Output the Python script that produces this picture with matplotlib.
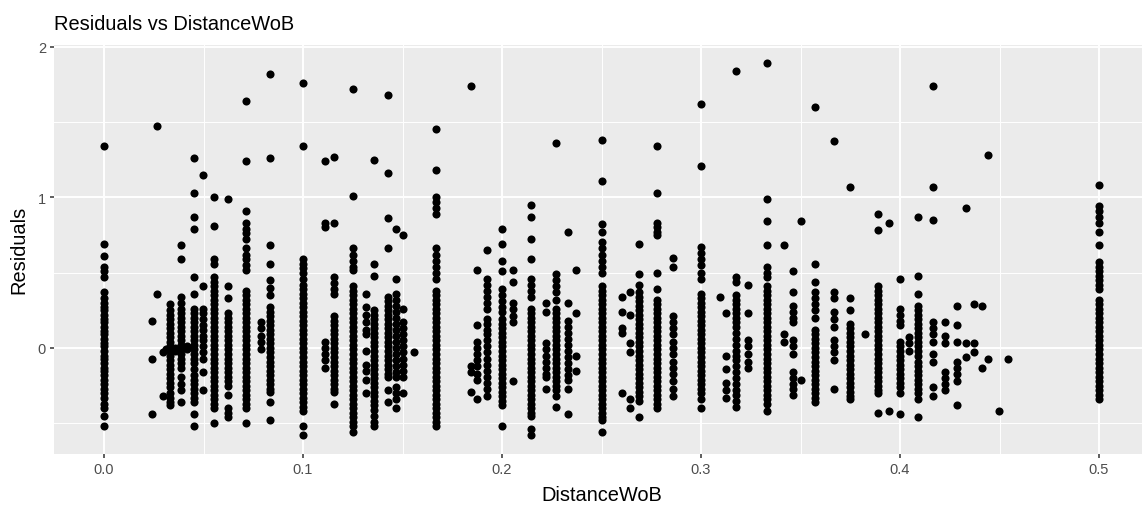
import matplotlib
matplotlib.use("Agg")
import matplotlib.pyplot as plt
from matplotlib.ticker import MultipleLocator, FixedLocator

plt.rcParams["font.family"] = ["Liberation Sans", "DejaVu Sans"]

# Distinct DistanceWoB values and the residuals observed at each of them
distance_levels = [
    0.0, 0.024, 0.0266, 0.0294, 0.0312, 0.0332, 0.0357, 0.0387, 0.0417,
    0.0453, 0.0497, 0.0553, 0.0623, 0.0714, 0.0789, 0.0833, 0.1, 0.1111,
    0.1156, 0.125, 0.1317, 0.1357, 0.1427, 0.1467, 0.150, 0.156, 0.1667,
    0.1844, 0.1873, 0.1925, 0.2, 0.2055, 0.2143, 0.2222, 0.2273, 0.2333,
    0.237, 0.25, 0.2603, 0.2643, 0.269, 0.2778, 0.2857, 0.3, 0.3095,
    0.3126, 0.3175, 0.3236, 0.3333, 0.3417, 0.346, 0.35, 0.3571, 0.3667,
    0.375, 0.3824, 0.3889, 0.3945, 0.4, 0.4045, 0.4091, 0.4167, 0.4226,
    0.4286, 0.433, 0.437, 0.441, 0.4444, 0.4497, 0.4543, 0.5,
]

residuals_by_level = [
    [1.34, 0.69, 0.61, 0.54, 0.51, 0.47, 0.37, 0.33, 0.30, 0.27, 0.25, 0.22, 0.19, 0.17,
     0.14, 0.11, 0.09, 0.06, 0.03, 0.01, -0.02, -0.05, -0.07, -0.10, -0.13, -0.15, -0.18,
     -0.21, -0.24, -0.27, -0.30, -0.33, -0.37, -0.40, -0.45, -0.52],
    [0.18, -0.07, -0.44],
    [1.47, 0.36],
    [-0.03, -0.32],
    [-0.01],
    [0.29, 0.25, 0.22, 0.19, 0.16, 0.13, 0.10, 0.07, 0.04, 0.01, -0.02, -0.05, -0.08,
     -0.11, -0.14, -0.17, -0.20, -0.23, -0.26, -0.30, -0.33, -0.36, -0.38],
    [0.0, -0.02],
    [0.68, 0.59, 0.34, 0.30, 0.26, 0.23, 0.20, 0.17, 0.14, 0.11, 0.08, 0.05, 0.02, -0.01,
     -0.04, -0.07, -0.10, -0.13, -0.19, -0.24, -0.28, -0.36],
    [0.01, -0.01],
    [1.26, 1.03, 0.87, 0.79, 0.47, 0.36, 0.26, 0.23, 0.20, 0.17, 0.14, 0.11, 0.08, 0.05,
     0.02, -0.01, -0.04, -0.07, -0.10, -0.14, -0.18, -0.21, -0.24, -0.27, -0.30, -0.33,
     -0.36, -0.44, -0.52],
    [1.15, 0.41, 0.26, 0.23, 0.19, 0.15, 0.12, 0.08, 0.05, 0.01, -0.03, -0.07, -0.16, -0.28],
    [1.00, 0.81, 0.59, 0.56, 0.47, 0.44, 0.41, 0.38, 0.35, 0.32, 0.29, 0.26, 0.23, 0.20,
     0.17, 0.14, 0.11, 0.08, 0.05, 0.02, -0.01, -0.04, -0.07, -0.10, -0.13, -0.16, -0.19,
     -0.22, -0.25, -0.28, -0.31, -0.34, -0.37, -0.40, -0.50],
    [0.99, 0.41, 0.33, 0.23, 0.20, 0.17, 0.14, 0.11, 0.08, 0.05, 0.02, -0.01, -0.04, -0.07,
     -0.10, -0.13, -0.16, -0.19, -0.22, -0.25, -0.31, -0.40, -0.43, -0.46],
    [1.64, 1.24, 0.91, 0.83, 0.79, 0.76, 0.72, 0.66, 0.62, 0.59, 0.55, 0.52, 0.38, 0.35,
     0.32, 0.29, 0.26, 0.23, 0.20, 0.17, 0.14, 0.11, 0.08, 0.05, 0.02, -0.01, -0.04, -0.07,
     -0.10, -0.13, -0.16, -0.19, -0.22, -0.25, -0.28, -0.31, -0.34, -0.37, -0.40, -0.50],
    [0.17, 0.13, 0.08, 0.04, -0.01],
    [1.82, 1.26, 0.68, 0.56, 0.45, 0.40, 0.35, 0.27, 0.24, 0.21, 0.18, 0.15, 0.12, 0.09,
     0.06, 0.03, 0.00, -0.03, -0.06, -0.09, -0.12, -0.15, -0.18, -0.21, -0.24, -0.27,
     -0.29, -0.36, -0.48],
    [1.76, 1.34, 0.59, 0.56, 0.53, 0.50, 0.46, 0.42, 0.39, 0.36, 0.33, 0.30, 0.27, 0.24,
     0.21, 0.18, 0.15, 0.12, 0.09, 0.06, 0.03, 0.00, -0.03, -0.06, -0.09, -0.12, -0.15,
     -0.18, -0.21, -0.24, -0.27, -0.30, -0.33, -0.36, -0.39, -0.42, -0.52, -0.58],
    [1.24, 0.83, 0.80, 0.04, 0.00, -0.04, -0.08, -0.13],
    [1.27, 0.83, 0.47, 0.43, 0.39, 0.36, 0.21, 0.18, 0.15, 0.12, 0.09, 0.06, 0.03, 0.00,
     -0.03, -0.06, -0.09, -0.12, -0.15, -0.18, -0.21, -0.24, -0.27, -0.29, -0.37],
    [1.72, 1.01, 0.66, 0.62, 0.58, 0.54, 0.52, 0.41, 0.38, 0.35, 0.32, 0.29, 0.26, 0.23,
     0.20, 0.17, 0.14, 0.11, 0.08, 0.05, 0.02, -0.01, -0.04, -0.07, -0.10, -0.13, -0.16,
     -0.19, -0.22, -0.25, -0.28, -0.31, -0.34, -0.37, -0.40, -0.43, -0.46, -0.49, -0.52,
     -0.56],
    [0.36, 0.27, 0.22, 0.17, 0.12, 0.09, -0.02, -0.11, -0.15, -0.21, -0.30],
    [1.25, 0.56, 0.48, 0.25, 0.22, 0.19, 0.16, 0.13, 0.10, 0.07, 0.04, 0.01, -0.02, -0.05,
     -0.08, -0.11, -0.14, -0.17, -0.20, -0.23, -0.26, -0.29, -0.32, -0.35, -0.38, -0.41,
     -0.45, -0.49, -0.52],
    [1.68, 1.16, 0.86, 0.66, 0.34, 0.31, 0.28, 0.25, 0.22, 0.19, 0.16, 0.13, 0.10, 0.07,
     0.04, 0.01, -0.02, -0.05, -0.08, -0.11, -0.14, -0.17, -0.19, -0.28, -0.36],
    [0.79, 0.46, 0.36, 0.32, 0.28, 0.24, 0.20, 0.16, 0.12, 0.08, 0.04, 0.00, -0.04, -0.08,
     -0.12, -0.16, -0.19, -0.26, -0.30, -0.34, -0.40],
    [0.75, 0.26, 0.17, 0.13, 0.09, 0.05, 0.01, -0.03, -0.07, -0.11, -0.15, -0.19, -0.30],
    [-0.03],
    [1.45, 1.18, 1.00, 0.97, 0.93, 0.89, 0.66, 0.62, 0.58, 0.54, 0.50, 0.46, 0.38, 0.35,
     0.32, 0.29, 0.26, 0.23, 0.20, 0.17, 0.14, 0.11, 0.08, 0.05, 0.02, -0.01, -0.04, -0.07,
     -0.10, -0.13, -0.16, -0.19, -0.22, -0.25, -0.28, -0.31, -0.34, -0.37, -0.40, -0.43,
     -0.46, -0.49, -0.52],
    [1.74, -0.12, -0.16, -0.29],
    [0.52, 0.15, 0.04, 0.00, -0.04, -0.08, -0.12, -0.17, -0.21, -0.34],
    [0.65, 0.46, 0.42, 0.38, 0.34, 0.30, 0.26, 0.19, 0.16, 0.12, 0.09, 0.05, 0.01, -0.03,
     -0.07, -0.11, -0.15, -0.19, -0.23, -0.27, -0.32],
    [0.79, 0.69, 0.58, 0.51, 0.39, 0.35, 0.31, 0.27, 0.24, 0.19, 0.16, 0.13, 0.10, 0.07,
     0.04, 0.01, -0.02, -0.05, -0.08, -0.11, -0.14, -0.17, -0.20, -0.23, -0.26, -0.29,
     -0.32, -0.35, -0.38, -0.52],
    [0.52, 0.44, 0.30, 0.26, 0.21, 0.17, -0.22],
    [0.95, 0.87, 0.72, 0.59, 0.46, 0.42, 0.38, 0.34, 0.26, 0.23, 0.20, 0.17, 0.14, 0.11,
     0.08, 0.05, 0.02, -0.01, -0.04, -0.07, -0.10, -0.13, -0.16, -0.19, -0.22, -0.25,
     -0.28, -0.31, -0.34, -0.37, -0.40, -0.43, -0.45, -0.54, -0.58],
    [0.30, 0.24, 0.03, -0.01, -0.05, -0.09, -0.13, -0.17, -0.19, -0.27],
    [1.36, 0.49, 0.45, 0.41, 0.37, 0.32, 0.26, 0.23, 0.20, 0.17, 0.14, 0.11, 0.08, 0.05,
     0.02, -0.01, -0.04, -0.07, -0.10, -0.13, -0.16, -0.19, -0.22, -0.25, -0.28, -0.32,
     -0.39],
    [0.77, 0.30, 0.18, 0.14, 0.10, 0.06, 0.02, -0.02, -0.06, -0.10, -0.14, -0.18, -0.21,
     -0.27, -0.44],
    [0.52, 0.23, -0.05, -0.15],
    [1.38, 1.11, 0.82, 0.77, 0.70, 0.66, 0.62, 0.58, 0.54, 0.50, 0.41, 0.38, 0.35, 0.32,
     0.29, 0.26, 0.23, 0.20, 0.17, 0.14, 0.11, 0.08, 0.05, 0.02, -0.01, -0.04, -0.07,
     -0.10, -0.13, -0.16, -0.19, -0.22, -0.25, -0.28, -0.31, -0.34, -0.37, -0.40, -0.43,
     -0.46, -0.48, -0.56],
    [0.34, 0.24, 0.13, 0.10, -0.30],
    [0.37, 0.22, 0.03, -0.03, -0.34, -0.40],
    [0.69, 0.49, 0.42, 0.37, 0.34, 0.31, 0.28, 0.25, 0.22, 0.19, 0.16, 0.13, 0.10, 0.07,
     0.04, 0.01, -0.02, -0.05, -0.08, -0.11, -0.14, -0.17, -0.20, -0.23, -0.26, -0.29,
     -0.32, -0.35, -0.46],
    [1.34, 1.03, 0.83, 0.80, 0.77, 0.75, 0.50, 0.39, 0.32, 0.29, 0.26, 0.23, 0.20, 0.17,
     0.14, 0.11, 0.08, 0.05, 0.02, -0.01, -0.04, -0.07, -0.10, -0.13, -0.16, -0.19, -0.22,
     -0.25, -0.28, -0.31, -0.34, -0.37, -0.40],
    [0.60, 0.54, 0.21, 0.17, 0.13, 0.09, 0.04, 0.00, -0.04, -0.09, -0.13, -0.17, -0.22,
     -0.27, -0.32],
    [1.62, 1.21, 0.67, 0.63, 0.59, 0.55, 0.50, 0.46, 0.36, 0.33, 0.30, 0.27, 0.24, 0.21,
     0.18, 0.15, 0.12, 0.09, 0.06, 0.03, 0.00, -0.03, -0.06, -0.09, -0.12, -0.15, -0.18,
     -0.21, -0.24, -0.27, -0.30, -0.34, -0.40],
    [0.34],
    [0.23, -0.05, -0.14, -0.23, -0.28, -0.33],
    [1.84, 0.47, 0.44, 0.35, 0.32, 0.29, 0.26, 0.23, 0.20, 0.17, 0.14, 0.10, 0.06, 0.02,
     -0.02, -0.05, -0.08, -0.12, -0.16, -0.20, -0.24, -0.28, -0.31, -0.35, -0.39],
    [0.42, 0.23, 0.05, 0.01, -0.04, -0.09, -0.13],
    [1.89, 0.99, 0.84, 0.68, 0.54, 0.50, 0.47, 0.41, 0.38, 0.35, 0.32, 0.29, 0.26, 0.23,
     0.20, 0.17, 0.14, 0.11, 0.08, 0.05, 0.02, -0.01, -0.04, -0.07, -0.10, -0.13, -0.16,
     -0.19, -0.22, -0.25, -0.28, -0.31, -0.34, -0.37, -0.42],
    [0.68, 0.09, 0.04],
    [0.51, 0.37, 0.28, 0.24, 0.20, 0.17, 0.05, 0.01, -0.04, -0.16, -0.20, -0.24, -0.27, -0.31],
    [0.84, -0.21],
    [1.60, 0.56, 0.44, 0.37, 0.33, 0.29, 0.25, 0.20, 0.12, 0.09, 0.06, 0.03, 0.00, -0.03,
     -0.06, -0.09, -0.12, -0.15, -0.18, -0.21, -0.24, -0.27, -0.30, -0.33, -0.36],
    [1.37, 0.37, 0.33, 0.24, 0.19, 0.14, 0.05, 0.01, -0.03, -0.08, -0.27],
    [1.07, 0.33, 0.25, 0.16, 0.13, 0.10, 0.07, 0.04, 0.01, -0.02, -0.05, -0.08, -0.11,
     -0.14, -0.17, -0.20, -0.23, -0.26, -0.29, -0.32, -0.34],
    [0.09],
    [0.89, 0.78, 0.41, 0.38, 0.35, 0.32, 0.29, 0.26, 0.23, 0.20, 0.17, 0.14, 0.11, 0.08,
     0.05, 0.02, -0.01, -0.04, -0.07, -0.10, -0.13, -0.16, -0.19, -0.22, -0.25, -0.28,
     -0.30, -0.43],
    [0.83, -0.42],
    [0.46, 0.26, 0.22, 0.18, 0.15, 0.04, 0.01, -0.02, -0.05, -0.08, -0.11, -0.14, -0.17,
     -0.20, -0.23, -0.26, -0.30, -0.44],
    [0.07, 0.03, -0.02],
    [0.87, 0.48, 0.36, 0.28, 0.25, 0.22, 0.19, 0.16, 0.13, 0.10, 0.07, 0.04, 0.01, -0.02,
     -0.05, -0.09, -0.12, -0.15, -0.18, -0.21, -0.24, -0.27, -0.30, -0.34, -0.46],
    [1.74, 1.07, 0.85, 0.17, 0.13, 0.09, 0.04, -0.04, -0.09, -0.26, -0.32],
    [0.17, 0.08, 0.03, -0.16, -0.20, -0.24, -0.28],
    [0.28, 0.15, 0.04, -0.09, -0.13, -0.17, -0.22, -0.38],
    [0.93, 0.03, -0.06],
    [0.29, 0.03, -0.03],
    [0.28, -0.13],
    [1.28, -0.07],
    [-0.42],
    [-0.07],
    [1.08, 0.94, 0.91, 0.87, 0.83, 0.77, 0.68, 0.57, 0.54, 0.51, 0.48, 0.45, 0.42, 0.39,
     0.32, 0.29, 0.26, 0.23, 0.20, 0.17, 0.14, 0.11, 0.08, 0.05, 0.02, -0.01, -0.04, -0.07,
     -0.10, -0.13, -0.16, -0.19, -0.22, -0.25, -0.28, -0.31, -0.34],
]

x_ticks = [0.0, 0.1, 0.2, 0.3, 0.4, 0.5]
x_tick_labels = ["0.0", "0.1", "0.2", "0.3", "0.4", "0.5"]
y_ticks = [0, 1, 2]
y_tick_labels = ["0", "1", "2"]

distance = [d for d, ys in zip(distance_levels, residuals_by_level) for _ in ys]
residuals = [r for ys in residuals_by_level for r in ys]

W, H = 1142, 510
fig = plt.figure(figsize=(W / 100, H / 100), dpi=100)

# panel limits with a 5% margin on each side of the data range
xmin, xmax = min(distance), max(distance)
ymin, ymax = min(residuals), max(residuals)
xpad = 0.05 * (xmax - xmin)
ypad = 0.05 * (ymax - ymin)

left_px, bottom_px, top_px = 54.3, 455.0, 45.5
px_per_x = 1990.0
width_px = (xmax - xmin + 2 * xpad) * px_per_x
ax = fig.add_axes([left_px / W, 1 - bottom_px / H, width_px / W, (bottom_px - top_px) / H])
ax.set_facecolor("#EBEBEB")

ax.scatter(distance, residuals, s=34, c="black", linewidths=0, zorder=3)

ax.set_xlim(xmin - xpad, xmax + xpad)
ax.set_ylim(ymin - ypad, ymax + ypad)

ax.xaxis.set_major_locator(FixedLocator(x_ticks))
ax.set_xticklabels(x_tick_labels)
ax.yaxis.set_major_locator(FixedLocator(y_ticks))
ax.set_yticklabels(y_tick_labels)
ax.xaxis.set_minor_locator(MultipleLocator(0.05))
ax.yaxis.set_minor_locator(MultipleLocator(0.5))

ax.set_axisbelow(True)
ax.grid(which="major", color="white", linewidth=1.4)
ax.grid(which="minor", color="white", linewidth=0.7)
for spine in ax.spines.values():
    spine.set_visible(False)

ax.tick_params(which="major", length=3.0, width=1.1, color="#333333",
               labelcolor="#4D4D4D", labelsize=10.5, pad=3)
ax.tick_params(which="minor", length=0)

fig.text(left_px / W, 1 - 29.5 / H, "Residuals vs DistanceWoB",
         fontsize=14.4, color="black", ha="left", va="baseline")
fig.text((left_px + width_px / 2) / W, 1 - 501 / H, "DistanceWoB",
         fontsize=14.4, color="black", ha="center", va="baseline")
fig.text(18.5 / W, 1 - 250 / H, "Residuals", rotation=90,
         fontsize=14.4, color="black", ha="center", va="center")

fig.savefig("out.png", dpi=100)
